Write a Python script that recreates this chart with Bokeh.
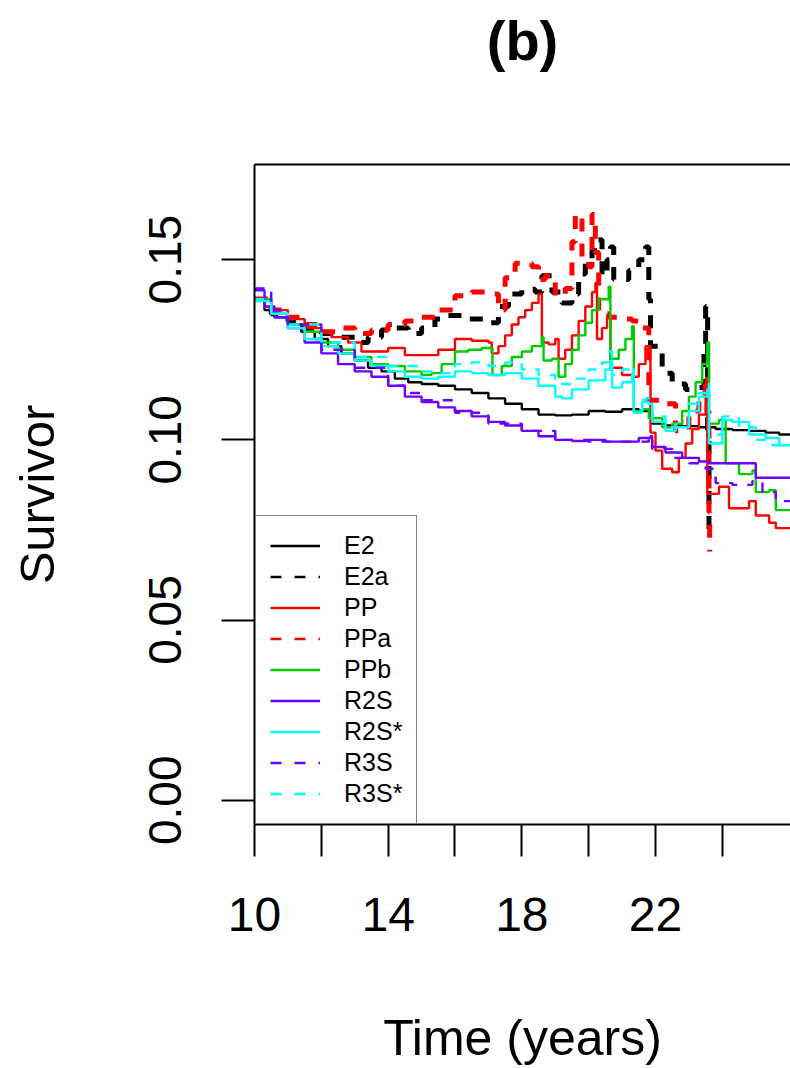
from bokeh.plotting import figure
from bokeh.models import (Range1d, FixedTicker, LinearAxis, Legend, LegendItem, Title,
                          CDSView, IndexFilter, ColumnDataSource)
from bokeh.embed import file_html
from bokeh.resources import INLINE

FONT = "Liberation Sans"

# ---------------- data ----------------
x_ticks = [10, 14, 18, 22]
x_minor = [12, 16, 20, 24]
y_ticks = [0.0, 0.05, 0.10, 0.15]
y_tick_labels = ["0.00", "0.05", "0.10", "0.15"]

E2_t = [10.0, 10.3, 10.6, 11.0, 11.4, 11.8, 12.2, 12.6, 13.0, 13.4, 13.8, 14.2, 14.6, 15.0, 15.5,
        16.0, 16.5, 17.0, 17.5, 18.0, 18.5, 19.0, 19.5, 20.0, 20.5, 21.0, 21.5, 21.9, 22.3, 22.8,
        23.3, 23.8, 24.3, 24.8, 25.3, 25.7, 26.1]
E2_v = [0.139, 0.136, 0.134, 0.132, 0.130, 0.128, 0.126, 0.124, 0.122, 0.120, 0.119, 0.117, 0.116,
        0.1155, 0.115, 0.114, 0.113, 0.1115, 0.110, 0.1085, 0.107, 0.1068, 0.107, 0.108, 0.1078,
        0.1085, 0.108, 0.1045, 0.104, 0.1038, 0.1035, 0.103, 0.1027, 0.1025, 0.102, 0.1015, 0.101]

E2a_t = [10.0, 10.5, 11.0, 11.5, 12.0, 12.5, 13.0, 13.4, 13.8, 14.2, 14.6, 15.0, 15.4, 15.8, 16.2,
         16.6, 17.0, 17.3, 17.6, 18.0, 18.4, 18.6, 18.9, 19.2, 19.5, 19.7, 19.9, 20.1, 20.25, 20.4,
         20.55, 20.65, 20.75, 21.0, 21.2, 21.5, 21.7, 21.8, 21.85, 22.2, 22.5, 22.9, 23.3, 23.45,
         23.5, 23.56, 23.6]
E2a_v = [0.139, 0.135, 0.133, 0.131, 0.1295, 0.1285, 0.127, 0.1285, 0.1305, 0.131, 0.1295, 0.131,
         0.1335, 0.1345, 0.1335, 0.1335, 0.1325, 0.137, 0.1405, 0.1418, 0.141, 0.1455, 0.141, 0.138,
         0.1405, 0.146, 0.150, 0.1525, 0.1555, 0.1455, 0.150, 0.1535, 0.1445, 0.1445, 0.147, 0.150,
         0.1535, 0.139, 0.126, 0.1185, 0.1155, 0.114, 0.1145, 0.126, 0.137, 0.102, 0.0745]

PP_t = [10.0, 10.5, 11.0, 11.5, 12.0, 12.3, 12.8, 13.2, 13.8, 14.0, 14.5, 15.2, 15.5, 16.0, 16.5,
        17.0, 17.1, 17.3, 17.5, 17.7, 17.9, 18.1, 18.3, 18.5, 18.6, 18.8, 19.0, 19.1, 19.3, 19.5,
        19.7, 19.9, 20.1, 20.2, 20.25, 20.4, 20.55, 20.65, 21.0, 21.3, 21.5, 21.7, 21.85, 22.0,
        22.2, 22.5, 22.7, 22.9, 23.1, 23.3, 23.5, 23.55, 23.9, 24.2, 24.6, 24.8, 25.0, 25.4, 25.6,
        26.1]
PP_v = [0.139, 0.136, 0.1335, 0.131, 0.130, 0.1285, 0.127, 0.1245, 0.1245, 0.1255, 0.1235, 0.1235,
        0.125, 0.128, 0.1275, 0.127, 0.124, 0.126, 0.129, 0.132, 0.134, 0.136, 0.138, 0.1405, 0.127,
        0.1265, 0.128, 0.1225, 0.125, 0.129, 0.133, 0.137, 0.141, 0.1435, 0.128, 0.131, 0.134, 0.120,
        0.118, 0.1175, 0.121, 0.126, 0.102, 0.097, 0.092, 0.091, 0.095, 0.099, 0.103, 0.107, 0.112,
        0.085, 0.087, 0.081, 0.081, 0.083, 0.079, 0.077, 0.0755, 0.0755]

PPa_t = [10.0, 10.5, 11.0, 11.5, 12.0, 12.5, 13.0, 13.5, 14.0, 14.5, 15.0, 15.5, 16.0, 16.5, 17.0,
         17.3, 17.5, 17.8, 18.3, 18.5, 18.7, 19.0, 19.3, 19.5, 19.6, 19.8, 20.0, 20.1, 20.2, 20.3,
         20.6, 21.0, 21.3, 21.6, 21.8, 22.2, 22.6, 23.0, 23.3, 23.5, 23.55, 23.6, 23.62]
PPa_v = [0.139, 0.136, 0.134, 0.132, 0.130, 0.131, 0.1295, 0.1305, 0.132, 0.133, 0.134, 0.136, 0.140,
         0.141, 0.1405, 0.136, 0.145, 0.149, 0.148, 0.1445, 0.1455, 0.140, 0.142, 0.155, 0.1625, 0.150,
         0.148, 0.1625, 0.152, 0.135, 0.134, 0.1335, 0.133, 0.131, 0.111, 0.110, 0.1025, 0.108, 0.113,
         0.118, 0.108, 0.080, 0.069]

PPb_t = [10.0, 10.5, 11.0, 11.5, 12.0, 12.5, 13.0, 13.5, 14.0, 14.5, 15.0, 15.3, 15.6, 16.0, 16.4,
         16.8, 17.1, 17.12, 17.4, 17.7, 18.0, 18.3, 18.6, 18.65, 18.9, 19.1, 19.3, 19.5, 19.7, 19.9,
         20.1, 20.3, 20.6, 20.65, 20.9, 21.1, 21.3, 21.35, 21.6, 21.8, 22.2, 22.5, 22.8, 23.0, 23.2,
         23.4, 23.55, 23.6, 23.9, 24.1, 24.5, 24.9, 25.0, 25.4, 25.6, 26.1]
PPb_v = [0.139, 0.135, 0.132, 0.130, 0.127, 0.125, 0.123, 0.121, 0.1205, 0.119, 0.118, 0.1185, 0.121,
         0.1245, 0.125, 0.1255, 0.1255, 0.118, 0.1205, 0.123, 0.1245, 0.126, 0.1285, 0.122, 0.1225,
         0.1175, 0.121, 0.125, 0.129, 0.1325, 0.136, 0.139, 0.1425, 0.1225, 0.125, 0.128, 0.1315,
         0.108, 0.1085, 0.106, 0.1035, 0.1045, 0.108, 0.112, 0.116, 0.121, 0.127, 0.1045, 0.1055,
         0.0935, 0.0905, 0.0915, 0.0855, 0.086, 0.0805, 0.078]

R2S_t = [10.0, 10.3, 10.6, 11.0, 11.5, 12.0, 12.5, 13.0, 13.5, 14.0, 14.5, 15.0, 15.5, 16.0, 16.5,
         17.0, 17.5, 18.0, 18.5, 19.0, 19.5, 20.0, 20.5, 21.0, 21.5, 21.85, 21.9, 22.3, 22.8, 23.3,
         23.6, 24.0, 24.5, 24.9, 25.0, 25.6, 26.1]
R2S_v = [0.1415, 0.137, 0.134, 0.131, 0.127, 0.124, 0.121, 0.119, 0.1175, 0.115, 0.112, 0.1105,
         0.109, 0.108, 0.1065, 0.105, 0.104, 0.1025, 0.101, 0.100, 0.0997, 0.100, 0.0995, 0.0995,
         0.1005, 0.101, 0.098, 0.0965, 0.095, 0.094, 0.0935, 0.0935, 0.0935, 0.0935, 0.0895, 0.0895,
         0.0893]

R2Ss_t = [10.0, 10.5, 11.0, 11.5, 12.0, 12.5, 13.0, 13.5, 14.0, 14.5, 15.0, 15.5, 16.0, 16.5, 17.0,
          17.5, 18.0, 18.5, 19.0, 19.2, 19.5, 20.0, 20.5, 20.65, 20.7, 21.0, 21.3, 21.35, 21.6, 21.8,
          21.9, 22.3, 22.6, 23.0, 23.3, 23.55, 23.6, 24.0, 24.3, 24.8, 25.3, 25.7, 26.1]
R2Ss_v = [0.1385, 0.135, 0.131, 0.128, 0.126, 0.124, 0.122, 0.1205, 0.119, 0.1175, 0.117, 0.1175,
          0.119, 0.1185, 0.118, 0.1185, 0.117, 0.115, 0.112, 0.1115, 0.114, 0.1165, 0.1195, 0.122,
          0.1145, 0.116, 0.1185, 0.1075, 0.1105, 0.110, 0.105, 0.1025, 0.1035, 0.108, 0.112, 0.114,
          0.099, 0.1055, 0.105, 0.1015, 0.1005, 0.0985, 0.0985]

R3S_t = [10.0, 10.5, 11.0, 12.0, 13.0, 14.0, 14.5, 15.0, 16.0, 17.0, 18.0, 19.0, 20.0, 21.0, 21.8,
         21.9, 22.5, 23.0, 23.5, 23.8, 24.3, 24.9, 25.2, 25.6, 26.1]
R3S_v = [0.142, 0.136, 0.132, 0.125, 0.120, 0.115, 0.113, 0.111, 0.1075, 0.1045, 0.1025, 0.100,
         0.0995, 0.0995, 0.101, 0.0975, 0.095, 0.0935, 0.092, 0.088, 0.0875, 0.0885, 0.0855, 0.083,
         0.084]

R3Ss_t = [10.0, 10.5, 11.0, 12.0, 13.0, 14.0, 15.0, 15.5, 16.0, 16.5, 17.0, 17.5, 18.0, 18.5, 19.0,
          19.5, 20.0, 20.4, 20.6, 20.7, 21.0, 21.3, 21.35, 21.7, 21.9, 22.3, 22.6, 23.0, 23.3, 23.55,
          23.6, 24.0, 24.5, 25.0, 25.5, 26.1]
R3Ss_v = [0.139, 0.135, 0.132, 0.127, 0.123, 0.1205, 0.119, 0.1185, 0.121, 0.1215, 0.1205, 0.1215,
          0.1195, 0.118, 0.1155, 0.117, 0.1195, 0.1215, 0.1245, 0.118, 0.1195, 0.1205, 0.111, 0.1115,
          0.1065, 0.1035, 0.1045, 0.110, 0.113, 0.1155, 0.1015, 0.1065, 0.1035, 0.100, 0.0985, 0.096]

names = ["E2", "E2a", "PP", "PPa", "PPb", "R2S", "R2S*", "R3S", "R3S*"]
series_t = [E2_t, E2a_t, PP_t, PPa_t, PPb_t, R2S_t, R2Ss_t, R3S_t, R3Ss_t]
series_v = [E2_v, E2a_v, PP_v, PPa_v, PPb_v, R2S_v, R2Ss_v, R3S_v, R3Ss_v]
colors = ["black", "black", "#FF0000", "#FF0000", "#00CD00", "#6E00FF", "#00FFFF", "#6E00FF", "#00FFFF"]
dashed = [False, True, False, True, False, False, False, True, True]
thick = [False, True, False, True, False, False, False, False, False]

# ---------------- figure ----------------
X0, X1 = 10.0, 26.04
Y0, Y1 = -0.00673, 0.1764
p = figure(width=790, height=1068, output_backend="svg", toolbar_location=None,
           x_range=Range1d(X0, X1), y_range=Range1d(Y0, Y1),
           x_axis_location=None, y_axis_location=None,
           min_border_left=254, min_border_right=0, min_border_top=164, min_border_bottom=243)
p.outline_line_color = None
p.xgrid.visible = False
p.ygrid.visible = False
p.background_fill_color = "white"
p.border_fill_color = "white"

sources = [ColumnDataSource(dict(t=series_t[i], v=series_v[i])) for i in range(9)]

# drawn in the order of the key
for i in range(9):
    kw = dict(line_color=colors[i], mode="after")
    if thick[i]:
        kw.update(line_width=5, line_dash="13 12")
    elif dashed[i]:
        kw.update(line_width=2.4, line_dash="10 10")
    else:
        kw.update(line_width=2.4)
    p.step("t", "v", source=sources[i], **kw)

# key renderers (thin lines, like the key): a single row each, so nothing is drawn in the plot
items = []
for i in range(9):
    kw = dict(line_color=colors[i], line_width=2.5)
    if dashed[i]:
        kw["line_dash"] = "11 13"
    r = p.line("t", "v", source=sources[i], view=CDSView(filter=IndexFilter(indices=[0])), **kw)
    items.append(LegendItem(label=names[i], renderers=[r]))

legend = Legend(items=items, location=(1, 0), orientation="vertical",
                label_text_font=FONT, label_text_font_size="25px", label_text_color="black",
                glyph_width=50, glyph_height=31, label_height=31, spacing=0, padding=14,
                label_standoff=24, margin=0,
                border_line_color="black", border_line_width=1.5,
                background_fill_color="white", background_fill_alpha=1.0)
p.add_layout(legend, "center")

# axes
yaxis = LinearAxis(ticker=FixedTicker(ticks=y_ticks, minor_ticks=[]),
                   major_label_overrides={t: l for t, l in zip(y_ticks, y_tick_labels)},
                   major_label_orientation="vertical",
                   major_tick_out=33, major_tick_in=0, minor_tick_out=0, minor_tick_in=0,
                   major_label_text_font=FONT, major_label_text_font_size="46px",
                   major_label_text_color="black", major_label_standoff=40,
                   axis_label="Survivor", axis_label_text_font=FONT,
                   axis_label_text_font_size="49px", axis_label_text_font_style="normal",
                   axis_label_text_color="black", axis_label_standoff=83,
                   axis_line_width=2, major_tick_line_width=2)
p.add_layout(yaxis, "left")

xaxis = LinearAxis(ticker=FixedTicker(ticks=x_ticks, minor_ticks=x_minor),
                   major_tick_out=32, major_tick_in=0, minor_tick_out=32, minor_tick_in=0,
                   major_label_text_font=FONT, major_label_text_font_size="48px",
                   major_label_text_color="black", major_label_standoff=41,
                   axis_label="Time (years)", axis_label_text_font=FONT,
                   axis_label_text_font_size="50px", axis_label_text_font_style="normal",
                   axis_label_text_color="black", axis_label_standoff=76,
                   axis_line_width=2, major_tick_line_width=2, minor_tick_line_width=2)
p.add_layout(xaxis, "below")

# top edge of the box
topaxis = LinearAxis(ticker=FixedTicker(ticks=[]), major_tick_out=0, major_tick_in=0,
                     minor_tick_out=0, minor_tick_in=0, major_label_text_font_size="0px",
                     axis_line_width=2)
p.add_layout(topaxis, "above")

# empty gap between the box and the panel title
gap = Title(text=" ", text_font_size="10px", standoff=80)
p.add_layout(gap, "above")

title = Title(text="(b)", align="center", vertical_align="bottom",
              text_font=FONT, text_font_size="56px", text_font_style="bold",
              text_color="black", standoff=0)
p.add_layout(title, "above")

open("out.html", "w").write(file_html(p, INLINE))
